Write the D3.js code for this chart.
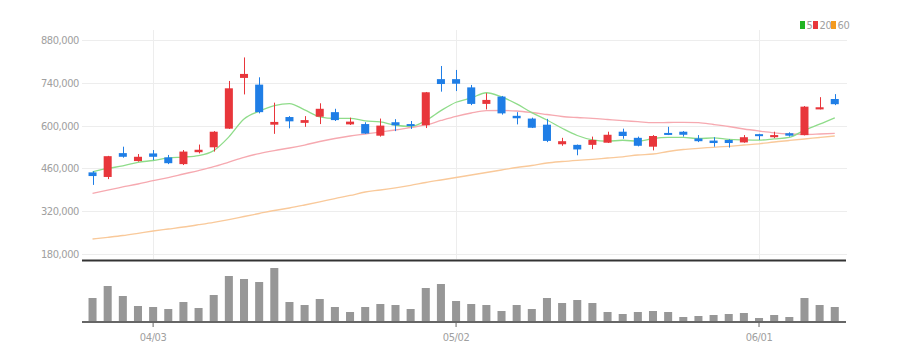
<!DOCTYPE html>
<html><head><meta charset="utf-8">
<script src="https://cdn.jsdelivr.net/npm/d3@7"></script>
<style>
html,body{margin:0;padding:0;background:#fff;}
svg{display:block;}
.lbl{font-family:"Liberation Sans Narrow","DejaVu Sans Condensed",sans-serif;font-size:11px;fill:#a0a0a0;letter-spacing:-0.4px;}
</style></head>
<body><svg id="c" width="899" height="362"></svg>
<script>
const dates = ["03/28","03/29","03/30","03/31","04/03","04/04","04/05","04/06","04/07","04/10","04/11","04/12","04/13","04/14","04/17","04/18","04/19","04/20","04/21","04/24","04/25","04/26","04/27","04/28","05/02","05/03","05/04","05/08","05/09","05/10","05/11","05/12","05/15","05/16","05/17","05/18","05/19","05/22","05/23","05/24","05/25","05/26","05/30","05/31","06/01","06/02","06/05","06/07","06/08","06/09"];
const open  = [447000,432000,510000,484000,509000,496000,474000,513000,529000,590000,756000,734000,603000,628000,609000,629000,644000,604000,605000,567000,611000,605000,601000,752000,752000,725000,671000,695000,632000,623000,603000,539000,537000,537000,544000,580000,560000,531000,576000,580000,558000,551000,553000,545000,572000,562000,575000,569000,653000,687000];
const high  = [451000,501000,531000,507000,520000,504000,520000,538000,582000,746000,823000,758000,675000,631000,631000,673000,655000,626000,611000,623000,621000,615000,710000,795000,782000,733000,706000,697000,644000,626000,622000,560000,538000,564000,580000,590000,564000,569000,596000,582000,569000,562000,555000,569000,573000,580000,578000,664000,693000,703000];
const low   = [406000,425000,495000,482000,487000,474000,471000,509000,515000,589000,702000,640000,573000,591000,596000,605000,615000,602000,573000,564000,582000,589000,592000,711000,713000,667000,653000,636000,604000,592000,546000,534000,503000,523000,543000,557000,532000,519000,569000,564000,546000,531000,528000,544000,553000,559000,564000,568000,653000,667000];
const close = [435000,500000,498000,498000,498000,477000,515000,521000,580000,722000,769000,644000,612000,614000,618000,655000,618000,613000,574000,600000,601000,599000,709000,736000,737000,671000,684000,640000,624000,593000,550000,549000,522000,553000,570000,566000,534000,566000,570000,570000,549000,543000,543000,562000,566000,569000,567000,662000,660000,670000];
const volume = [24000,36000,26000,16000,15000,13000,20000,14000,27000,46000,43000,40000,54000,20000,17000,23000,15000,10000,15000,18000,17000,13000,34000,38000,21000,18000,17000,11000,17000,13000,24000,19000,22000,19000,10000,8000,10000,11000,10000,5000,6000,7000,8000,9000,4000,7000,5000,24000,17000,15000];
const ma5  = [449000,460000,468000,480000,485800,494200,497200,501800,518200,563000,621400,647200,665400,672200,651400,628600,623400,623600,615600,612000,601200,597400,616600,649000,676400,690400,707400,693600,671200,642400,618200,591200,567600,553400,548800,552000,549000,557800,561200,561200,557800,559600,555000,553400,552600,556600,561400,585200,604800,625600];
const ma20 = [378500,389300,399200,409000,419800,430200,441700,453100,465600,480900,496300,508700,518500,526700,536500,548000,557800,566000,572500,579000,585600,593800,602000,616700,630400,641200,648700,649400,647800,642800,636300,629800,626500,623900,620000,616000,612800,609500,610100,610800,609500,603600,597000,588900,582300,576400,572500,570900,572500,574800];
const ma60 = [229100,234600,240500,247700,255200,261800,268300,275800,283700,292800,302700,312500,322300,330500,340300,350700,361500,371400,382800,389300,396500,404700,413900,422100,430200,438400,446600,454800,462900,469500,477700,482600,486500,489800,494000,497900,503800,507100,515300,521800,525700,529000,532300,536500,540500,546400,551300,556200,561100,566000];
const yTicks = [180000,320000,460000,600000,740000,880000];
const xTicks = ["04/03","05/02","06/01"];
const legendNames = ["5","20","60"];

const svg = d3.select("#c");
const L = 81.4, R = 845.9;
const x = d3.scaleBand().domain(dates).range([L, R]).padding(0.47);
const xc = d => x(d) + x.bandwidth()/2;
const y = d3.scaleLinear().domain([180000, 880000]).range([254, 40]);
const yv = d3.scaleLinear().domain([0, d3.max(volume)]).range([322, 268]);

// grid
svg.append("g").selectAll("line").data(yTicks).join("line")
  .attr("x1", 82).attr("x2", 847).attr("y1", d => Math.round(y(d))+0.5).attr("y2", d => Math.round(y(d))+0.5)
  .attr("stroke", "#ededed").attr("stroke-width", 1);
svg.append("g").selectAll("line").data(xTicks).join("line")
  .attr("x1", d => Math.round(xc(d))+0.5).attr("x2", d => Math.round(xc(d))+0.5).attr("y1", 30).attr("y2", 259)
  .attr("stroke", "#ededed").attr("stroke-width", 1);

// y axis labels
const ya = d3.axisLeft(y).tickValues(yTicks).tickSize(0).tickPadding(0).tickFormat(d3.format(","));
const yg = svg.append("g").attr("transform", "translate(79,0)").call(ya);
yg.select(".domain").remove();
yg.selectAll("text").attr("class","lbl").attr("fill", null).attr("font-size", null).attr("font-family", null);

// MA lines
const line = arr => d3.line().x((d,i) => xc(dates[i])).y(d => y(d)).curve(d3.curveMonotoneX)(arr);
svg.append("path").attr("d", line(ma60)).attr("fill","none").attr("stroke","#f9c99a").attr("stroke-width",1.3);
svg.append("path").attr("d", line(ma20)).attr("fill","none").attr("stroke","#f6a9b0").attr("stroke-width",1.3);
svg.append("path").attr("d", line(ma5)).attr("fill","none").attr("stroke","#8fdc8a").attr("stroke-width",1.3);

// candles
const RED = "#e8363b", BLUE = "#1f7ee6";
const col = i => close[i] >= open[i] ? RED : BLUE;
const cg = svg.append("g");
cg.selectAll("line").data(dates).join("line")
  .attr("x1", d => Math.round(xc(d))+0.5).attr("x2", d => Math.round(xc(d))+0.5)
  .attr("y1", (d,i) => y(high[i])).attr("y2", (d,i) => y(low[i]))
  .attr("stroke", (d,i) => col(i)).attr("stroke-width", 1);
cg.selectAll("rect").data(dates).join("rect")
  .attr("x", d => x(d)).attr("width", x.bandwidth())
  .attr("y", (d,i) => y(Math.max(open[i], close[i])))
  .attr("height", (d,i) => Math.max(2, Math.abs(y(open[i]) - y(close[i]))))
  .attr("fill", (d,i) => col(i));

// separator line
svg.append("line").attr("x1", 82).attr("x2", 846).attr("y1", 260.5).attr("y2", 260.5).attr("stroke", "#333").attr("stroke-width", 2);

// volume bars
svg.append("g").selectAll("rect").data(dates).join("rect")
  .attr("x", d => x(d)).attr("width", x.bandwidth())
  .attr("y", (d,i) => yv(volume[i])).attr("height", (d,i) => yv(0) - yv(volume[i]))
  .attr("fill", "#979797");

// x axis
const xa = d3.axisBottom(x).tickValues(xTicks).tickSize(5).tickPadding(6);
const xg = svg.append("g").attr("transform", "translate(0,322)").call(xa);
xg.select(".domain").remove();
xg.selectAll(".tick line").attr("stroke", "#666");
xg.selectAll("text").attr("class","lbl").attr("fill", null).attr("font-size", null).attr("font-family", null);
svg.append("line").attr("x1", 82).attr("x2", 846).attr("y1", 322).attr("y2", 322).attr("stroke", "#666").attr("stroke-width", 2);

// legend
const legCol = ["#22b322","#e8363b","#f39a1f"];
const legX = [800, 813, 831];
const lg = svg.append("g");
legendNames.forEach((n,i) => {
  lg.append("rect").attr("x", legX[i]).attr("y", 21).attr("width", 5).attr("height", 8).attr("fill", legCol[i]);
  lg.append("text").attr("class","lbl").attr("x", legX[i]+6.5).attr("y", 29).attr("font-size", 10).text(n);
});
</script></body></html>
